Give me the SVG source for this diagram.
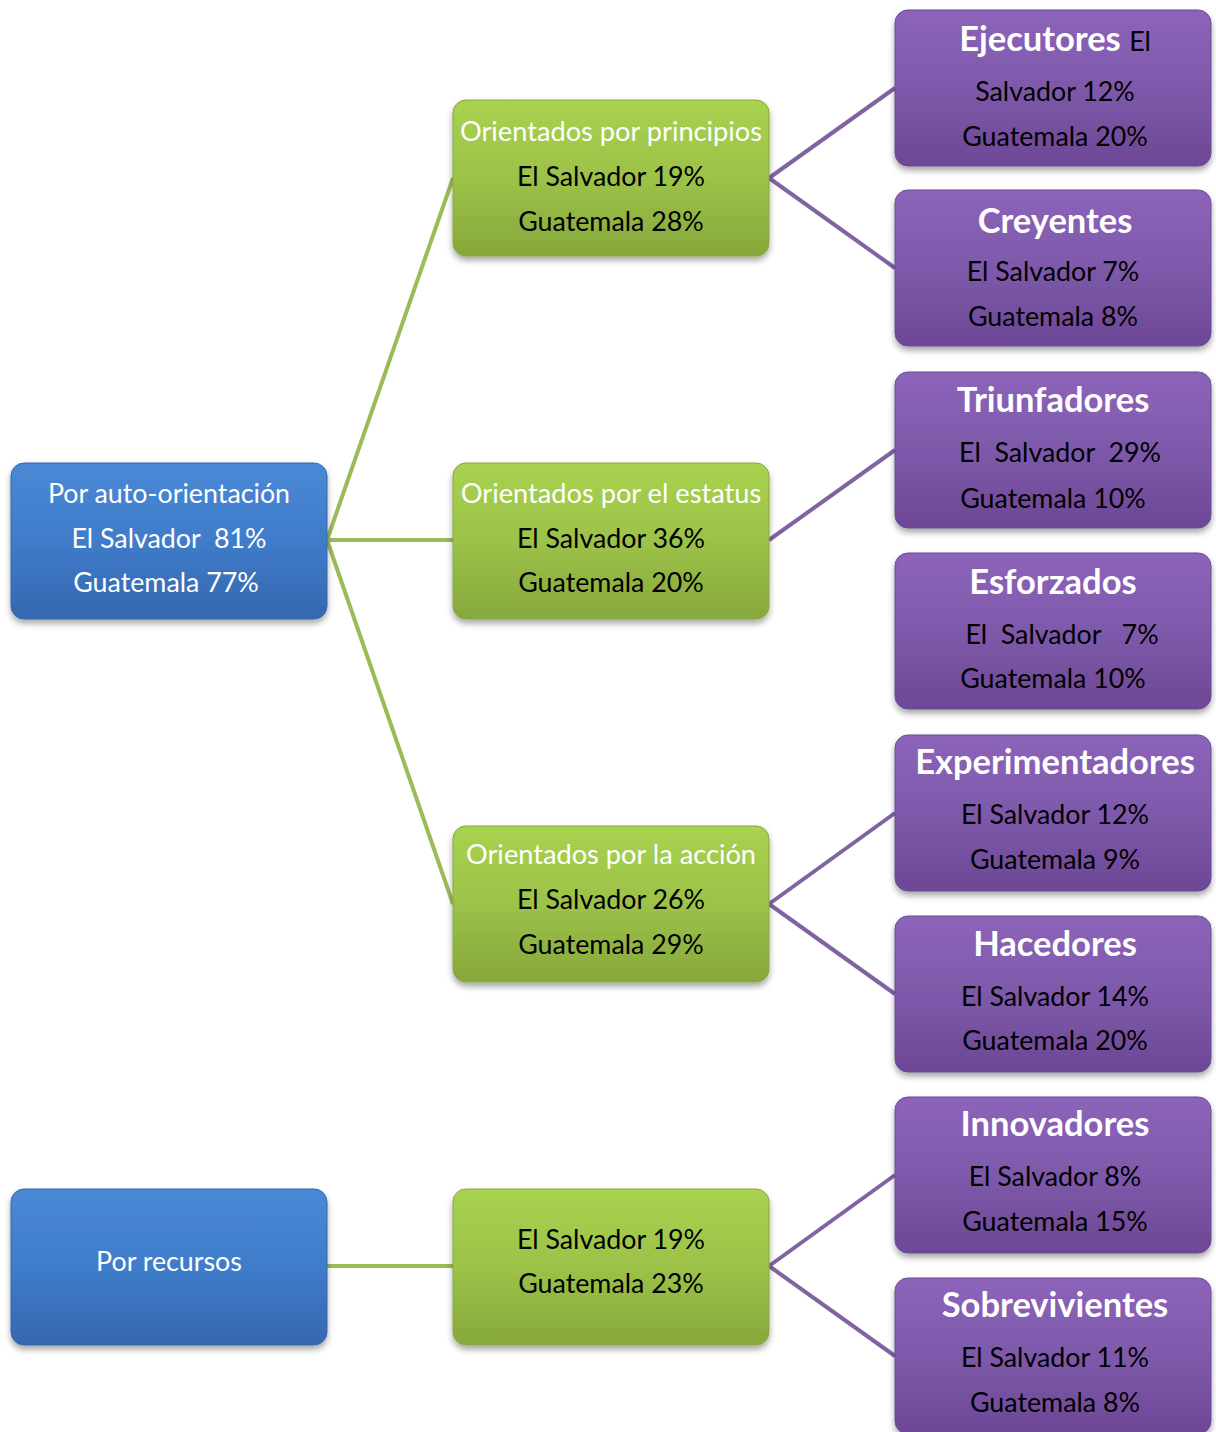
<svg xmlns="http://www.w3.org/2000/svg" width="1216" height="1432" viewBox="0 0 1216 1432">
<defs>
<linearGradient id="gb" x1="0" y1="0" x2="0" y2="1"><stop offset="0" stop-color="#4a88d6"/><stop offset="0.5" stop-color="#3f7cc9"/><stop offset="1" stop-color="#3567b0"/></linearGradient>
<linearGradient id="gg" x1="0" y1="0" x2="0" y2="1"><stop offset="0" stop-color="#a8d250"/><stop offset="0.5" stop-color="#9cc248"/><stop offset="1" stop-color="#86a83c"/></linearGradient>
<linearGradient id="gp" x1="0" y1="0" x2="0" y2="1"><stop offset="0" stop-color="#8c64ba"/><stop offset="0.5" stop-color="#7e59aa"/><stop offset="1" stop-color="#6c4896"/></linearGradient>
<filter id="sh" x="-10%" y="-10%" width="120%" height="130%"><feDropShadow dx="0" dy="4" stdDeviation="3" flood-color="#000" flood-opacity="0.35"/></filter>
</defs>
<style>
text{font-family:Lato,"Liberation Sans",sans-serif;font-size:26.8px;text-anchor:middle;white-space:pre}
.w{fill:#ffffff}
.k{fill:#000000}
.gt{font-size:27.2px}
.t{font-weight:bold;font-size:34.5px;fill:#ffffff}
.s{font-weight:normal;font-size:26.8px;fill:#000}
.b{fill:url(#gb);stroke:#3567b0;stroke-width:1}
.g{fill:url(#gg);stroke:#86a83c;stroke-width:1}
.p{fill:url(#gp);stroke:#6c4896;stroke-width:1}
.lg{stroke:#9bbb59;stroke-width:4;fill:none}
.lp{stroke:#8064a2;stroke-width:4;fill:none}
</style>
<g id="connectors">
<line class="lg" x1="327" y1="540" x2="453" y2="178"/>
<line class="lg" x1="327" y1="540" x2="453" y2="540"/>
<line class="lg" x1="327" y1="540" x2="453" y2="904"/>
<line class="lg" x1="327" y1="1266" x2="453" y2="1266"/>
<line class="lp" x1="769" y1="178" x2="895" y2="88"/>
<line class="lp" x1="769" y1="178" x2="895" y2="268"/>
<line class="lp" x1="769" y1="540" x2="895" y2="450"/>
<line class="lp" x1="769" y1="904" x2="895" y2="813"/>
<line class="lp" x1="769" y1="904" x2="895" y2="994"/>
<line class="lp" x1="769" y1="1266" x2="895" y2="1175"/>
<line class="lp" x1="769" y1="1266" x2="895" y2="1356"/>
</g>
<g id="n-auto"><rect class="b" filter="url(#sh)" x="11" y="463" width="316" height="156" rx="13"/>
<text class="w" x="169" y="503">Por auto-orientación</text><text class="w" x="169" y="548">El Salvador  81%</text><text class="w" x="166" y="592">Guatemala 77%</text></g>
<g id="n-recursos"><rect class="b" filter="url(#sh)" x="11" y="1189" width="316" height="156" rx="13"/>
<text class="w" x="169" y="1271">Por recursos</text></g>
<g id="n-principios"><rect class="g" filter="url(#sh)" x="453" y="100" width="316" height="156" rx="13"/>
<text class="w gt" x="611" y="141">Orientados por principios</text><text class="k" x="611" y="186">El Salvador 19%</text><text class="k" x="611" y="231">Guatemala 28%</text></g>
<g id="n-estatus"><rect class="g" filter="url(#sh)" x="453" y="463" width="316" height="156" rx="13"/>
<text class="w gt" x="611" y="503">Orientados por el estatus</text><text class="k" x="611" y="548">El Salvador 36%</text><text class="k" x="611" y="592">Guatemala 20%</text></g>
<g id="n-accion"><rect class="g" filter="url(#sh)" x="453" y="826" width="316" height="156" rx="13"/>
<text class="w gt" x="611" y="864">Orientados por la acción</text><text class="k" x="611" y="909">El Salvador 26%</text><text class="k" x="611" y="954">Guatemala 29%</text></g>
<g id="n-recursos2"><rect class="g" filter="url(#sh)" x="453" y="1189" width="316" height="156" rx="13"/>
<text class="k" x="611" y="1249">El Salvador 19%</text><text class="k" x="611" y="1293">Guatemala 23%</text></g>
<g id="n-ejecutores"><rect class="p" filter="url(#sh)" x="895" y="10" width="316" height="156" rx="13"/>
<text x="1055" y="51"><tspan class="t">Ejecutores </tspan><tspan class="s">El</tspan></text><text class="k" x="1055" y="101">Salvador 12%</text><text class="k" x="1055" y="146">Guatemala 20%</text></g>
<g id="n-creyentes"><rect class="p" filter="url(#sh)" x="895" y="190" width="316" height="156" rx="13"/>
<text class="t" x="1055" y="233">Creyentes</text><text class="k" x="1053" y="281">El Salvador 7%</text><text class="k" x="1053" y="326">Guatemala 8%</text></g>
<g id="n-triunfadores"><rect class="p" filter="url(#sh)" x="895" y="372" width="316" height="156" rx="13"/>
<text class="t" x="1053" y="412">Triunfadores</text><text class="k" x="1060" y="462">El  Salvador  29%</text><text class="k" x="1053" y="508">Guatemala 10%</text></g>
<g id="n-esforzados"><rect class="p" filter="url(#sh)" x="895" y="553" width="316" height="156" rx="13"/>
<text class="t" x="1053" y="594">Esforzados</text><text class="k" x="1062" y="644">El  Salvador   7%</text><text class="k" x="1053" y="688">Guatemala 10%</text></g>
<g id="n-experimentadores"><rect class="p" filter="url(#sh)" x="895" y="735" width="316" height="156" rx="13"/>
<text class="t" x="1055" y="774">Experimentadores</text><text class="k" x="1055" y="824">El Salvador 12%</text><text class="k" x="1055" y="869">Guatemala 9%</text></g>
<g id="n-hacedores"><rect class="p" filter="url(#sh)" x="895" y="916" width="316" height="156" rx="13"/>
<text class="t" x="1055" y="956">Hacedores</text><text class="k" x="1055" y="1006">El Salvador 14%</text><text class="k" x="1055" y="1050">Guatemala 20%</text></g>
<g id="n-innovadores"><rect class="p" filter="url(#sh)" x="895" y="1097" width="316" height="156" rx="13"/>
<text class="t" x="1055" y="1136">Innovadores</text><text class="k" x="1055" y="1186">El Salvador 8%</text><text class="k" x="1055" y="1231">Guatemala 15%</text></g>
<g id="n-sobrevivientes"><rect class="p" filter="url(#sh)" x="895" y="1278" width="316" height="156" rx="13"/>
<text class="t" x="1055" y="1317">Sobrevivientes</text><text class="k" x="1055" y="1367">El Salvador 11%</text><text class="k" x="1055" y="1412">Guatemala 8%</text></g>
</svg>
